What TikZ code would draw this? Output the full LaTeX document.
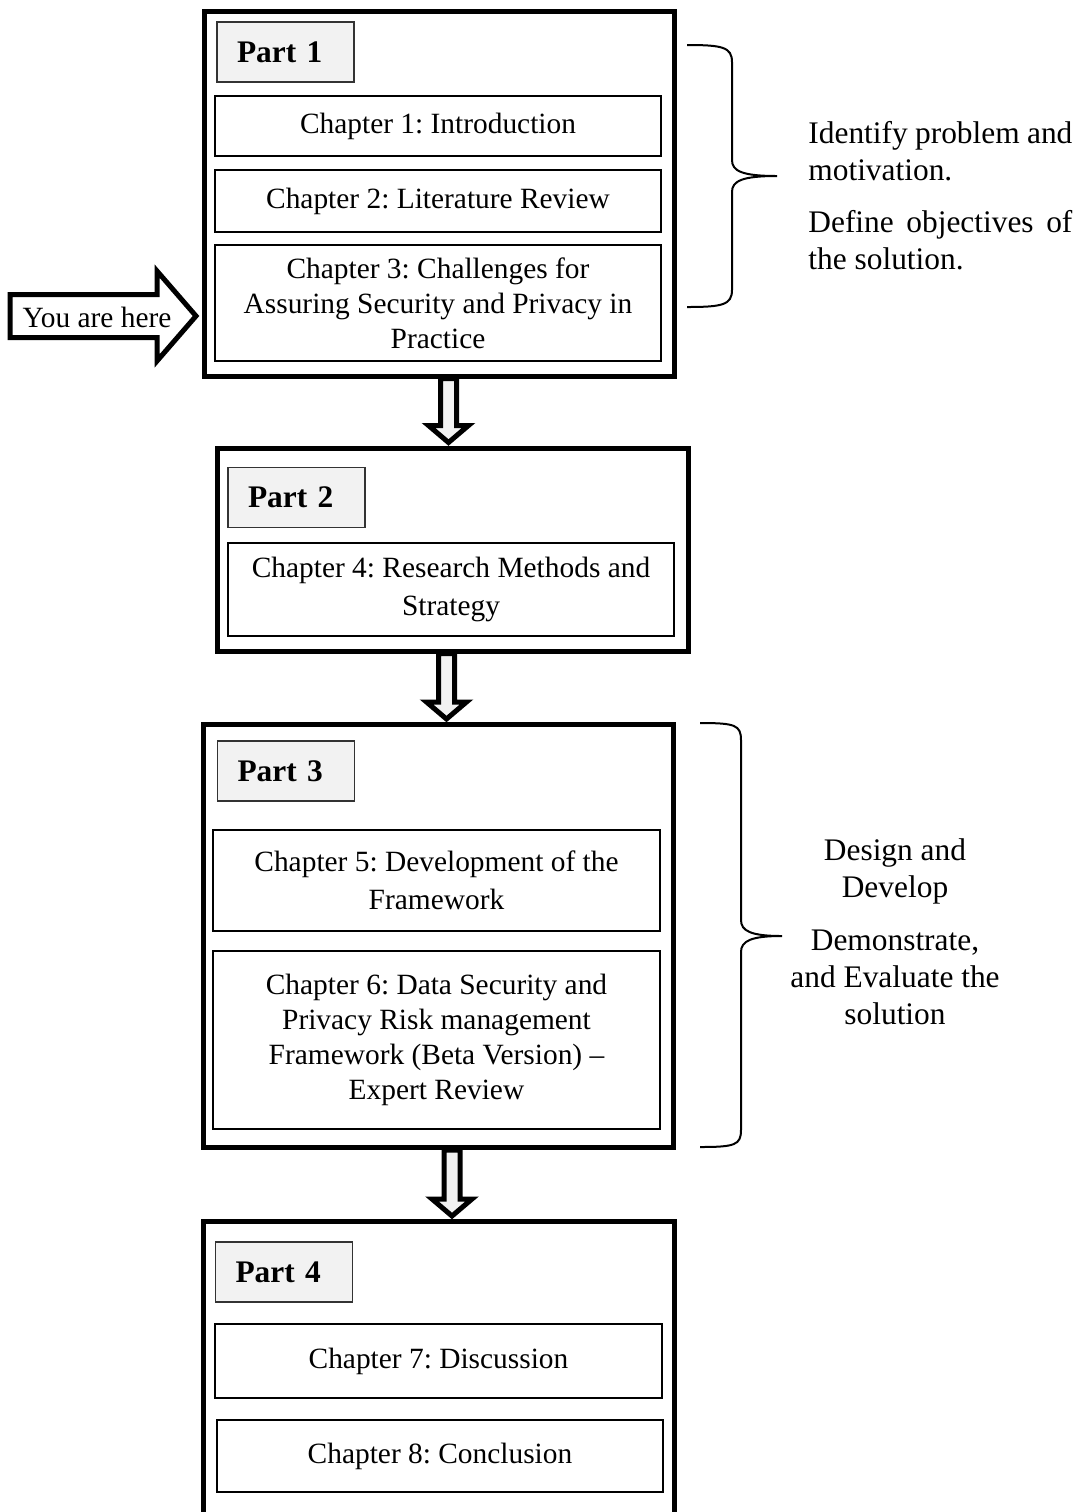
\documentclass[tikz,border=0pt]{standalone}
\usepackage{fontspec}
\setmainfont{Liberation Serif}
\usetikzlibrary{calc}
\definecolor{labelgray}{HTML}{F2F2F2}
\frenchspacing

% hollow down arrow between two named points: #1 start of shaft, #2 tip
\newcommand{\fatdownarrow}[2]{%
  \draw[fatarrow] ($(#1)+(-8,0)$) -- ($(#2)+(-8,-17)$) -- ($(#2)+(-20,-17)$)
    -- (#2) -- ($(#2)+(20,-17)$) -- ($(#2)+(8,-17)$) -- ($(#1)+(8,0)$) -- cycle;}

\begin{document}
\begin{tikzpicture}[x=0.5pt,y=-0.5pt,
  partbox/.style={draw, line width=2.5pt, inner sep=0pt},
  partlabel/.style={draw=black!80, line width=0.8pt, fill=labelgray,
    inner xsep=10pt, inner ysep=0pt, text width=48.5pt, minimum height=30pt,
    align=left, font=\fontsize{15.7}{18}\selectfont\bfseries},
  chapter/.style={draw, line width=0.9pt, inner sep=0pt, align=center,
    font=\fontsize{14.7}{17.5}\selectfont},
  chapterwide/.style={chapter, font=\fontsize{14.7}{19}\selectfont},
  fatarrow/.style={draw, line width=2.5pt, fill=labelgray},
  herearrow/.style={draw, line width=2.5pt, fill=white},
  bracepath/.style={draw, line width=1pt},
  sidenote/.style={font=\fontsize{15.7}{18.5}\selectfont, inner sep=0pt}
]
\clip (0,0) rectangle (1081,1512);

% ---- Part frames
\node[partbox, minimum width=235pt,    minimum height=182.5pt]  (p1) at (439.5,193.5) {};
\node[partbox, minimum width=235.25pt, minimum height=101.5pt]  (p2) at (452.75,549.5) {};
\node[partbox, minimum width=234.75pt, minimum height=211.5pt]  (p3) at (438.25,936) {};
\node[partbox, minimum width=235.25pt, minimum height=189.25pt] (p4) at (438.75,1410.75) {};

% ---- Part titles
\node[partlabel] (l1) at (285.5,52)   {Part 1};
\node[partlabel] (l2) at (296.5,497.5) {Part 2};
\node[partlabel] (l3) at (286,771)    {Part 3};
\node[partlabel] (l4) at (284,1272)   {Part 4};

% ---- Chapters
\node[chapter, minimum width=223pt, minimum height=30pt] (c1) at (438,126)
  {Chapter 1: Introduction};
\node[chapter, minimum width=223pt, minimum height=31pt] (c2) at (438,201)
  {Chapter 2: Literature Review};
\node[chapter, minimum width=223pt, minimum height=58pt] (c3) at (438,303)
  {Chapter 3: Challenges for\\Assuring Security and Privacy in\\Practice};
\node[chapterwide, minimum width=223pt, minimum height=46.5pt] (c4) at (451,589.5)
  {Chapter 4: Research Methods and\\Strategy};
\node[chapterwide, minimum width=223.5pt, minimum height=50.5pt] (c5) at (436.5,880.5)
  {Chapter 5: Development of the\\Framework};
\node[chapter, minimum width=223.5pt, minimum height=89pt] (c6) at (436.5,1040)
  {Chapter 6: Data Security and\\Privacy Risk management\\Framework (Beta Version) --\\Expert Review};
\node[chapter, minimum width=223.5pt, minimum height=37pt] (c7) at (438.5,1361)
  {Chapter 7: Discussion};
\node[chapter, minimum width=223pt, minimum height=36pt] (c8) at (440,1456)
  {Chapter 8: Conclusion};

% ---- Arrows between parts
\coordinate (a1s) at (p1.south -| 448.5,0);
\coordinate (a1e) at ($(p2.north -| a1s)+(0,-3)$);
\coordinate (a2s) at (p2.south -| 446.5,0);
\coordinate (a2e) at ($(p3.north -| a2s)+(0,-3)$);
\coordinate (a3s) at (p3.south -| 452,0);
\coordinate (a3e) at ($(p4.north -| a3s)+(0,-3)$);
\fatdownarrow{a1s}{a1e}
\fatdownarrow{a2s}{a2e}
\fatdownarrow{a3s}{a3e}

% ---- "You are here" pointer
\coordinate (t) at ($(p1.west |- 0,316)+(-6,0)$);
\draw[herearrow] ($(t)+(-186,-21.5)$) -- ($(t)+(-39,-21.5)$) -- ($(t)+(-39,-45)$)
  -- (t) -- ($(t)+(-39,45)$) -- ($(t)+(-39,21.5)$) -- ($(t)+(-186,21.5)$) -- cycle;
\node[font=\fontsize{14.7}{17}\selectfont, inner sep=0pt] (here) at (97,317) {You are here};

% ---- Braces
\draw[bracepath] (687,45) .. controls (722,45) and (732,47) .. (732,62)
  -- (732,160) .. controls (732,171) and (742,176) .. (777,176)
  .. controls (742,176) and (732,181) .. (732,192)
  -- (732,290) .. controls (732,305) and (722,307) .. (687,307);
\draw[bracepath] (700,723) .. controls (735,723) and (741,725) .. (741,740)
  -- (741,920) .. controls (741,931) and (751,936) .. (782,936)
  .. controls (751,936) and (741,941) .. (741,952)
  -- (741,1130) .. controls (741,1145) and (735,1147) .. (700,1147);

% ---- Notes beside the braces
\node[sidenote, text width=132pt, align=justify, anchor=north west] (goal1) at (808,121)
  {Identify problem and motivation.\\[7.5pt]Define objectives of the solution.};
\node[sidenote, align=center, anchor=north] (goal2) at (895,838.5)
  {Design and\\Develop\\[8pt]Demonstrate,\\and Evaluate the\\solution};
\end{tikzpicture}
\end{document}
